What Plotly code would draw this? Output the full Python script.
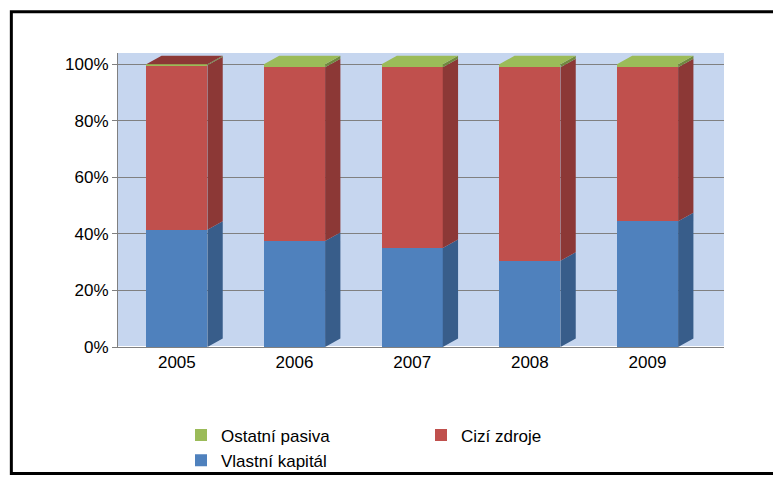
import plotly.graph_objects as go

years = ["2005", "2006", "2007", "2008", "2009"]
vlastni = [41.5, 37.5, 35.0, 30.5, 44.5]
ostatni = [0.3, 1.0, 1.0, 1.0, 1.0]
cizi = [100 - v - o for v, o in zip(vlastni, ostatni)]

series = [
    ("Vlastní kapitál", vlastni, "#4f81bd", "#385d8a"),
    ("Cizí zdroje", cizi, "#c0504d", "#8c3836"),
    ("Ostatní pasiva", ostatni, "#9bbb59", "#71893f"),
]

half = 0.26   # half bar width in category units
dx, dy = 0.13, 3.0  # fake depth offsets

fig = go.Figure()
for name, vals, col, _ in series:
    fig.add_trace(go.Bar(x=list(range(len(years))), y=vals, name=name,
                         marker=dict(color=col, line=dict(width=0)),
                         width=2 * half))

shapes = []
# side and top faces computed from the stacked values
for i in range(len(years)):
    base = 0
    for k, (name, vals, col, dark) in enumerate(series):
        top = base + vals[i]
        xr = i + half
        shapes.append(dict(type="path", xref="x", yref="y", line=dict(width=0),
                           fillcolor=dark, layer="above",
                           path=f"M{xr},{base} L{xr + dx},{base + dy} L{xr + dx},{top + dy} L{xr},{top} Z"))
        base = top
    topcol = series[2][2] if ostatni[i] >= 0.5 else series[1][3]
    xl = i - half
    shapes.append(dict(type="path", xref="x", yref="y", line=dict(width=0),
                       fillcolor=topcol, layer="above",
                       path=f"M{xl},100 L{xl + dx},{100 + dy} L{i + half + dx},{100 + dy} L{i + half},100 Z"))

# black frame around the chart (plot area is 606 x 302 px)
shapes.append(dict(type="rect", xref="paper", yref="paper",
                   x0=-0.176, x1=1.1, y0=-0.43, y1=1.14,
                   line=dict(color="black", width=3)))

fig.update_layout(
    barmode="stack",
    width=781, height=482,
    margin=dict(l=110, r=65, t=45, b=135),
    paper_bgcolor="white",
    plot_bgcolor="#c6d6ef",
    font=dict(family="Liberation Sans, Arial", size=17, color="black"),
    shapes=shapes,
    xaxis=dict(tickmode="array", tickvals=list(range(len(years))), ticktext=years,
               range=[-0.5, 4.65], showgrid=False, showline=True, linecolor="#808080",
               ticks="", tickfont=dict(size=17)),
    yaxis=dict(range=[0, 104], tickvals=[0, 20, 40, 60, 80, 100],
               ticktext=["0%", "20%", "40%", "60%", "80%", "100%"],
               gridcolor="#808080", showline=True, linecolor="#808080", ticks="outside",
               ticklen=5, tickcolor="#808080"),
    legend=dict(orientation="h", x=0.5, xanchor="center", y=-0.24, yanchor="top",
                traceorder="reversed", font=dict(size=17), itemwidth=30,
                entrywidth=195, bgcolor="rgba(0,0,0,0)"),
)

fig.write_html("out.html")
